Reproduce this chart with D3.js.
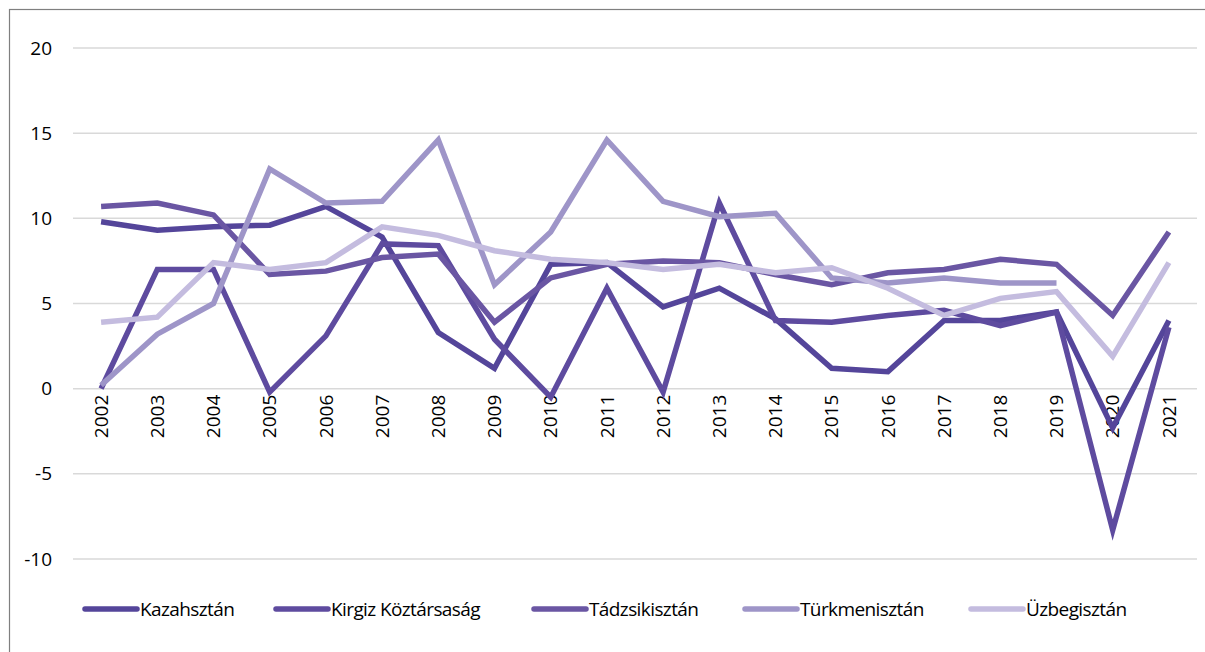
<!DOCTYPE html>
<html>
<head>
<meta charset="utf-8">
<script src="https://cdn.jsdelivr.net/npm/d3@7"></script>
<style>
  body { margin: 0; background: #fff; }
  svg text { font-family: "Open Sans", "Noto Sans", sans-serif; fill: #000; }
</style>
</head>
<body>
<div id="chart"></div>
<script>
/* labels */
const years = ["2002","2003","2004","2005","2006","2007","2008","2009","2010","2011",
               "2012","2013","2014","2015","2016","2017","2018","2019","2020","2021"];
const yTicks = [-10, -5, 0, 5, 10, 15, 20];

/* series values */
const kazahsztan = [9.8, 9.3, 9.5, 9.6, 10.7, 8.9, 3.3, 1.2, 7.3, 7.4, 4.8, 5.9, 4.1, 1.2, 1.0, 4.0, 4.0, 4.5, -2.3, 4.0];
const kirgiz     = [0.0, 7.0, 7.0, -0.2, 3.1, 8.5, 8.4, 2.9, -0.5, 5.9, -0.2, 10.9, 4.0, 3.9, 4.3, 4.6, 3.7, 4.5, -8.3, 3.6];
const tadzsik    = [10.7, 10.9, 10.2, 6.7, 6.9, 7.7, 7.9, 3.9, 6.5, 7.3, 7.5, 7.4, 6.7, 6.1, 6.8, 7.0, 7.6, 7.3, 4.3, 9.2];
const turkmen    = [0.2, 3.2, 5.0, 12.9, 10.9, 11.0, 14.6, 6.1, 9.2, 14.6, 11.0, 10.1, 10.3, 6.5, 6.2, 6.5, 6.2, 6.2, null, null];
const uzbeg      = [3.9, 4.2, 7.4, 7.0, 7.4, 9.5, 9.0, 8.1, 7.6, 7.4, 7.0, 7.3, 6.8, 7.1, 5.9, 4.3, 5.3, 5.7, 1.9, 7.4];

const seriesNames  = ["Kazahsztán", "Kirgiz Köztársaság", "Tádzsikisztán", "Türkmenisztán", "Üzbegisztán"];
const seriesValues = [kazahsztan, kirgiz, tadzsik, turkmen, uzbeg];
const seriesColors = ["#54459a", "#5e4b9f", "#6a56a3", "#9e95c8", "#c4bcdf"];

const W = 1205, H = 652;
const plot = { left: 73, right: 1197 };

const svg = d3.select("#chart").append("svg")
    .attr("width", W).attr("height", H);

/* outer frame */
svg.append("rect")
    .attr("x", 9.5).attr("y", 9.5)
    .attr("width", W).attr("height", H)
    .attr("fill", "none").attr("stroke", "#7f7f7f").attr("stroke-width", 1.2);

/* scales */
const x = d3.scaleBand().domain(years).range([plot.left, plot.right]);
const y = d3.scaleLinear().domain([-10, 20]).range([559, 48]);

/* grid lines */
svg.append("g").selectAll("line")
    .data(yTicks).enter().append("line")
    .attr("x1", plot.left).attr("x2", plot.right)
    .attr("y1", d => y(d)).attr("y2", d => y(d))
    .attr("stroke", "#d9d9d9").attr("stroke-width", 1.5);

/* y labels */
svg.append("g").selectAll("text")
    .data(yTicks).enter().append("text")
    .attr("x", 52).attr("y", d => y(d))
    .attr("dy", "0.35em")
    .attr("text-anchor", "end")
    .style("font-size", "19px")
    .text(d => d);

/* x labels, rotated */
svg.append("g").selectAll("text")
    .data(years).enter().append("text")
    .attr("transform", d => `translate(${x(d) + x.bandwidth() / 2}, ${y(0) + 6}) rotate(-90)`)
    .attr("dy", "0.35em")
    .attr("text-anchor", "end")
    .style("font-size", "19px")
    .text(d => d);

/* lines */
const line = d3.line()
    .defined(d => d.v !== null)
    .x(d => x(d.yr) + x.bandwidth() / 2)
    .y(d => y(d.v));

seriesValues.forEach(function(vals, i) {
    const pts = vals.map((v, j) => ({ yr: years[j], v: v }));
    svg.append("path")
        .datum(pts)
        .attr("d", line)
        .attr("fill", "none")
        .attr("stroke", seriesColors[i])
        .attr("stroke-width", 5.5)
        .attr("stroke-linejoin", "miter")
        .attr("stroke-miterlimit", 4);
});

/* legend */
const legendX = [83, 274, 532, 743, 969];
const legend = svg.append("g").selectAll("g")
    .data(seriesNames).enter().append("g")
    .attr("transform", (d, i) => `translate(${legendX[i]}, 609)`);
legend.append("line")
    .attr("x1", 2).attr("x2", 54)
    .attr("stroke", (d, i) => seriesColors[i])
    .attr("stroke-width", 5.5).attr("stroke-linecap", "round");
legend.append("text")
    .attr("x", 57).attr("dy", "0.35em")
    .style("font-size", "19px")
    .style("letter-spacing", "-0.6px")
    .text(d => d);
</script>
</body>
</html>
